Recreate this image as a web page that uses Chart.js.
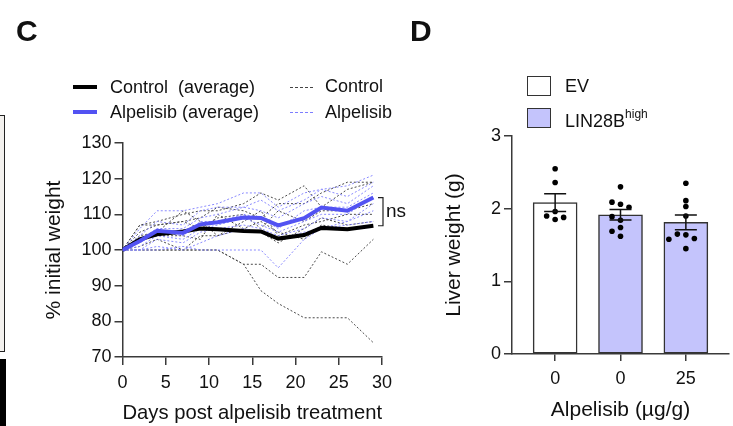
<!DOCTYPE html>
<html>
<head>
<meta charset="utf-8">
<script src="https://cdn.jsdelivr.net/npm/chart.js@4.4.1/dist/chart.umd.min.js"></script>
<style>
  html,body{margin:0;padding:0;background:#fff;}
  body{width:733px;height:426px;position:relative;overflow:hidden;font-family:"Liberation Sans",Arial,sans-serif;color:#111;}
  .abs{position:absolute;}
  .txt{position:absolute;font-size:18px;line-height:20px;white-space:pre;transform:translateY(-50%);}
  .panel{position:absolute;font-weight:bold;font-size:30px;line-height:30px;}
  #cC{position:absolute;left:0;top:0;}
  #cD{position:absolute;left:420px;top:0;}
</style>
</head>
<body>
<canvas id="cC" width="440" height="426"></canvas>
<canvas id="cD" width="313" height="426"></canvas>

<!-- cropped neighbour-panel fragments -->
<div class="abs" style="left:-3px;top:115px;width:6px;height:235px;border:1px solid #222;background:#f3f1ee;"></div>
<div class="abs" style="left:0;top:359px;width:6px;height:67px;background:#000;"></div>

<div class="panel" style="left:16px;top:16px;">C</div>
<div class="panel" style="left:410px;top:16px;">D</div>

<!-- legend C -->
<div class="abs" style="left:73px;top:85px;width:24px;height:4px;background:#000;"></div>
<div class="txt" style="left:110px;top:87px;">Control  (average)</div>
<div class="abs" style="left:73px;top:110px;width:24px;height:4px;background:#5252f2;"></div>
<div class="txt" style="left:110px;top:112px;">Alpelisib (average)</div>
<div class="abs" style="left:290px;top:87px;width:23px;height:0;border-top:1px dashed #444;"></div>
<div class="txt" style="left:325px;top:86px;">Control</div>
<div class="abs" style="left:290px;top:112px;width:23px;height:0;border-top:1px dashed #7d7dff;"></div>
<div class="txt" style="left:325px;top:112px;">Alpelisib</div>

<!-- legend D -->
<div class="abs" style="left:527px;top:76px;width:22px;height:18px;border:1.5px solid #333;background:#fff;"></div>
<div class="txt" style="left:565px;top:86px;">EV</div>
<div class="abs" style="left:527px;top:108px;width:22px;height:18px;border:1.5px solid #333;background:#c4c4fc;"></div>
<div class="txt" style="left:565px;top:118px;">LIN28B<sup style="font-size:12px;position:relative;top:-2px;">high</sup></div>

<script>
// ---------- Panel C data ----------
const days = [0, 2, 4, 7, 9, 11, 14, 16, 18, 21, 23, 26, 29];
const controlAvg   = [100, 103, 104.4, 105.2, 106, 105.8, 105.3, 105.2, 103.2, 104.2, 106.2, 105.8, 106.8];
const alpelisibAvg = [100, 102.5, 105.4, 104.8, 107.2, 107.8, 109.1, 109, 106.9, 108.9, 111.9, 111, 114.7];

const control1 = [100, 100, 100, 100, 100, 100, 96, 96, 92.3, 92.3, 99.5, 96, 103];
const control2 = [100, 100, 100, 100, 100, 100, 96, 88.6, 85, 81, 81, 81, 74];
const control3 = [100, 107, 108, 110, 111, 111, 113, 116, 114, 118, 112, 117, 119];
const control4 = [100, 107, 107, 108, 109, 112, 111, 109, 113, 113, 116, 119, 119];
const control5 = [100, 105, 107, 108, 106, 109, 110, 106, 111, 108, 111, 111, 113];
const control6 = [100, 104, 105, 111, 108, 104, 108, 111, 104, 107, 108, 110, 110];
const control7 = [100, 103, 104, 104, 103, 110, 106, 108, 105, 103, 107, 106, 107];
const control8 = [100, 101, 103, 100, 104, 104, 106, 105, 102, 106, 109, 107, 108];

const alpelisib1 = [100, 106, 111, 111, 112, 113, 116, 116, 112, 116, 117, 118, 121];
const alpelisib2 = [100, 104, 108, 107, 111, 112, 112, 114, 111, 114, 117, 115, 119];
const alpelisib3 = [100, 103, 106, 106, 109, 110, 112, 111, 109, 113, 115, 113, 118];
const alpelisib4 = [100, 102, 105, 104, 108, 108, 110, 109, 106, 111, 112, 112, 116];
const alpelisib5 = [100, 101, 104, 103, 106, 107, 109, 107, 105, 108, 110, 110, 115];
const alpelisib6 = [100, 100, 103, 102, 105, 106, 107, 106, 104, 106, 109, 108, 113];
const alpelisib7 = [100, 100, 101, 100, 102, 104, 106, 105, 103, 105, 106, 108, 111];
const alpelisib8 = [100, 100, 100, 101, 100, 100, 100, 100, 95, 103, 106, 107, 108];

const controlMice = [control1, control2, control3, control4, control5, control6, control7, control8];
const alpelisibMice = [alpelisib1, alpelisib2, alpelisib3, alpelisib4, alpelisib5, alpelisib6, alpelisib7, alpelisib8];

// ---------- Panel D data ----------
const groupLabels = ['0', '0', '25'];
const evDots      = [2.55, 2.36, 1.85, 1.90, 1.96, 1.88];
const lin0Dots    = [2.30, 2.06, 2.09, 2.02, 1.84, 1.89, 1.74, 1.69, 1.62];
const lin25Dots   = [2.35, 2.11, 2.03, 1.90, 1.64, 1.65, 1.59, 1.58, 1.45];

const FONT = '"Liberation Sans", Arial, sans-serif';
const AXIS = '#3a3a3a';
const TITLE_SIZE = 21;
Chart.defaults.font.family = FONT;
Chart.defaults.color = '#111';

const toXY = arr => arr.map((v, i) => ({x: days[i], y: v}));

const dsC = [];
controlMice.forEach(m => dsC.push({data: toXY(m), borderColor: '#4a4a4a', borderWidth: 1, borderDash: [2, 2], pointRadius: 0, tension: 0, order: 3}));
alpelisibMice.forEach(m => dsC.push({data: toXY(m), borderColor: '#8a8aff', borderWidth: 1, borderDash: [2, 2], pointRadius: 0, tension: 0, order: 2}));
dsC.push({data: toXY(controlAvg), borderColor: '#000', borderWidth: 4, pointRadius: 0, tension: 0, order: 1});
dsC.push({data: toXY(alpelisibAvg), borderColor: '#5252f2', borderWidth: 4, pointRadius: 0, tension: 0, order: 0});

const nsPlugin = {
  id: 'ns',
  afterDraw(chart) {
    const {ctx, scales: {x, y}} = chart;
    const y1 = y.getPixelForValue(alpelisibAvg[alpelisibAvg.length - 1]);
    const y2 = y.getPixelForValue(controlAvg[controlAvg.length - 1]);
    const bx = x.getPixelForValue(30) + 1;
    ctx.save();
    ctx.strokeStyle = '#222'; ctx.lineWidth = 1.2;
    ctx.beginPath();
    ctx.moveTo(bx - 5, y1); ctx.lineTo(bx, y1); ctx.lineTo(bx, y2); ctx.lineTo(bx - 5, y2);
    ctx.stroke();
    ctx.fillStyle = '#111'; ctx.font = '19px ' + FONT;
    ctx.textBaseline = 'middle'; ctx.textAlign = 'left';
    ctx.fillText('ns', bx + 3, (y1 + y2) / 2);
    ctx.restore();
  }
};

new Chart(document.getElementById('cC'), {
  type: 'line',
  data: {datasets: dsC},
  plugins: [nsPlugin],
  options: {
    responsive: false, animation: false,
    layout: {padding: {left: 40, right: 58, top: 143, bottom: 0}},
    plugins: {legend: {display: false}, tooltip: {enabled: false}},
    scales: {
      x: {
        type: 'linear', min: 0, max: 30,
        ticks: {stepSize: 5, font: {size: 18}, color: '#111', padding: 7},
        grid: {drawOnChartArea: false, drawTicks: true, tickLength: 8, color: AXIS, lineWidth: 1.5},
        border: {display: true, color: AXIS, width: 1.5},
        title: {display: true, text: 'Days post alpelisib treatment', font: {size: TITLE_SIZE}, color: '#111', padding: {top: 0, bottom: 0}},
        afterFit(s) { s.height = 69; }
      },
      y: {
        min: 70, max: 130,
        ticks: {stepSize: 10, font: {size: 18}, color: '#111', padding: 3},
        grid: {drawOnChartArea: false, drawTicks: true, tickLength: 8, color: AXIS, lineWidth: 1.5},
        border: {display: true, color: AXIS, width: 1.5},
        title: {display: true, text: '% initial weight', font: {size: TITLE_SIZE}, color: '#111', padding: {top: 2, bottom: 0}},
        afterFit(s) { s.width = 82.5; }
      }
    }
  }
});

// ---------- Panel D ----------
const groups = [evDots, lin0Dots, lin25Dots];
const mean = a => a.reduce((s, v) => s + v, 0) / a.length;
const sem = a => { const m = mean(a); return Math.sqrt(a.reduce((s, v) => s + (v - m) ** 2, 0) / (a.length - 1)) / Math.sqrt(a.length); };
const means = groups.map(mean);
const sems = groups.map(sem);

// simple beeswarm placement of dots
const dotPts = [];
groups.forEach((g, gi) => {
  const placed = [];
  g.forEach(v => {
    const tries = [0, -1, 1, -2, 2];
    for (const t of tries) {
      if (!placed.some(p => p.t === t && Math.abs(p.v - v) < 0.07)) { placed.push({t, v}); dotPts.push({x: gi + t * 0.13, y: v}); break; }
    }
  });
});

const errPlugin = {
  id: 'err',
  afterDatasetsDraw(chart) {
    const {ctx, scales: {x, y}} = chart;
    ctx.save();
    ctx.strokeStyle = '#111'; ctx.lineWidth = 1.5;
    means.forEach((m, i) => {
      const px = x.getPixelForValue(i);
      const top = y.getPixelForValue(m + sems[i]);
      const bot = y.getPixelForValue(m - sems[i]);
      ctx.beginPath();
      ctx.moveTo(px, top); ctx.lineTo(px, bot);
      ctx.moveTo(px - 11, top); ctx.lineTo(px + 11, top);
      ctx.moveTo(px - 11, bot); ctx.lineTo(px + 11, bot);
      ctx.stroke();
    });
    ctx.restore();
  }
};

new Chart(document.getElementById('cD'), {
  data: {
    datasets: [
      {type: 'scatter', data: dotPts, pointRadius: 2.8, pointBackgroundColor: '#000', pointBorderWidth: 0, order: 0},
      {type: 'bar', data: means.map((m, i) => ({x: i, y: m})), backgroundColor: ['#ffffff', '#c4c4fc', '#c4c4fc'],
       borderColor: '#333', borderWidth: 1.5, borderSkipped: false, barThickness: 44, order: 1}
    ]
  },
  plugins: [errPlugin],
  options: {
    responsive: false, animation: false,
    layout: {padding: {left: 22, right: 3, top: 136, bottom: 0}},
    plugins: {legend: {display: false}, tooltip: {enabled: false}},
    scales: {
      x: {
        type: 'linear', min: -0.66, max: 2.66, offset: false,
        afterBuildTicks(s) { s.ticks = groupLabels.map((l, i) => ({value: i})); },
        ticks: {font: {size: 18}, color: '#111', padding: 7, callback: (v, i) => groupLabels[i]},
        grid: {drawOnChartArea: false, drawTicks: true, tickLength: 7, color: AXIS, lineWidth: 1.5, offset: false},
        border: {display: true, color: AXIS, width: 1.5},
        title: {display: true, text: 'Alpelisib (µg/g)', font: {size: TITLE_SIZE}, color: '#111', padding: {top: 0, bottom: 3}},
        afterFit(s) { s.height = 72; }
      },
      y: {
        min: 0, max: 3,
        ticks: {stepSize: 1, font: {size: 18}, color: '#111', padding: 3},
        grid: {drawOnChartArea: false, drawTicks: true, tickLength: 8, color: AXIS, lineWidth: 1.5},
        border: {display: true, color: AXIS, width: 1.5},
        title: {display: true, text: 'Liver weight (g)', font: {size: TITLE_SIZE}, color: '#111', padding: {top: 0, bottom: 0}},
        afterFit(s) { s.width = 70; }
      }
    }
  }
});
</script>
</body>
</html>
